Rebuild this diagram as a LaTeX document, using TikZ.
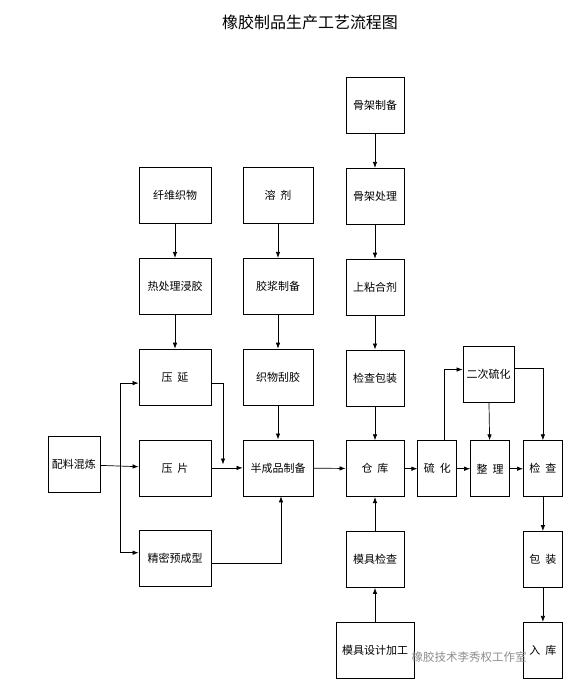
\documentclass[tikz,border=0pt]{standalone}
\usepackage{fontspec}
\newfontfamily\cjk{Noto Sans CJK SC}
\usepackage{tikz}
\usetikzlibrary{calc}
\usetikzlibrary{positioning}
\usetikzlibrary{arrows.meta}

\begin{document}
\begin{tikzpicture}[x=1pt, y=-1pt,
        box/.style={draw, line width=0.8pt, minimum height=56pt, inner sep=0pt,
            font=\cjk\fontsize{11}{11}\selectfont},
        >={Latex[length=6pt,width=4.5pt]}]

        \def\d{34pt}
        \def\h{13pt}
        \useasboundingbox (0,0) rectangle (568,681);

        % Title
        \node (T) at (310,22) {\cjk\fontsize{16}{16}\selectfont 橡胶制品生产工艺流程图};

        % Column of the frame (skeleton) line and the store
        \begin{scope}
            \node[box, minimum width=58pt] (GJ1) at (375,105.5) {骨架制备};
            \node[box, minimum width=58pt] (GJ2) [below=\d of GJ1] {骨架处理};
            \node[box, minimum width=58pt] (SN) [below=\d of GJ2] {上粘合剂};
            \node[box, minimum width=58pt] (JB) [below=\d of SN] {检查包装};
            \node[box, minimum width=58pt] (CK) [below=\d of JB] {仓\hspace{5pt}库};
            \node[box, minimum width=58pt] (MJ) [below=\d of CK] {模具检查};
            \node[box, minimum width=78pt] (MS) [below=\d of MJ] {模具设计加工};
        \end{scope}

        % Fabric column
        \begin{scope}
            \node[box, minimum width=72pt] (XW) at (175,195.5) {纤维织物};
            \node[box, minimum width=72pt] (RC) [below=\d of XW] {热处理浸胶};
            \node[box, minimum width=72pt] (YY) [below=\d of RC] {压\hspace{5pt}延};
            \node[box, minimum width=72pt] (YP) [below=\d of YY] {压\hspace{5pt}片};
            \node[box, minimum width=72pt] (JM) [below=\d of YP] {精密预成型};
        \end{scope}

        % Solvent column
        \begin{scope}
            \node[box, minimum width=70pt] (RJ) at (278,195.5) {溶\hspace{5pt}剂};
            \node[box, minimum width=70pt] (JJ) [below=\d of RJ] {胶浆制备};
            \node[box, minimum width=70pt] (ZG) [below=\d of JJ] {织物刮胶};
            \node[box, minimum width=70pt] (BC) [below=\d of ZG] {半成品制备};
        \end{scope}

        \node[box, minimum width=52pt] (PL) at (74,464.5) {配料混炼};

        % Vulcanizing line
        \node[box, minimum width=39pt] (LH) [right=\h of CK] {硫\hspace{5pt}化};
        \node[box, minimum width=39pt] (ZL) [right=\h of LH] {整\hspace{5pt}理};
        \node[box, minimum width=39pt] (JC) [right=\h of ZL] {检\hspace{5pt}查};
        \node[box, minimum width=51pt] (EC) at (488.5,374.5) {二次硫化};
        \node[box, minimum width=39pt] (BZ) [below=\d of JC] {包\hspace{5pt}装};
        \node[box, minimum width=39pt] (RK) [below=\d of BZ] {入\hspace{5pt}库};

        \coordinate (fk) at (120,464.5);
        \coordinate (hz) at (223,464.5);

        \begin{scope}[line width=0.7pt]
            \foreach \a/\b in {GJ1/GJ2, GJ2/SN, SN/JB, JB/CK, MS/MJ, MJ/CK,
                XW/RC, RC/YY, RJ/JJ, JJ/ZG, ZG/BC}
            \draw[->] (\a) -- (\b);

            \foreach \a/\b in {PL/YP, YP/BC, BC/CK, CK/LH, LH/ZL, ZL/JC,
                EC/ZL, JC/BZ, BZ/RK}
            \draw[->] (\a) -- (\b);

            \draw[->] (fk) |- ([yshift=-6pt]YY.west);
            \draw[->] (fk) |- ([yshift=6pt]JM.west);
            \draw[->] ([yshift=-6pt]YY.east) -| (hz);
            \draw[->] ([yshift=-5pt]JM.east) -| ([xshift=3pt]BC.south);

            \draw[->] ([xshift=7pt]LH.north) |- ([yshift=5pt]EC.west);
            \draw[->] ([yshift=6pt]EC.east) -| (JC.north);
        \end{scope}

        % watermark
        \node[text=black!45, anchor=west] (WM) at (408,657)
            {\cjk\fontsize{11.5}{11.5}\selectfont 橡胶技术李秀权工作室};

\end{tikzpicture}
\end{document}
